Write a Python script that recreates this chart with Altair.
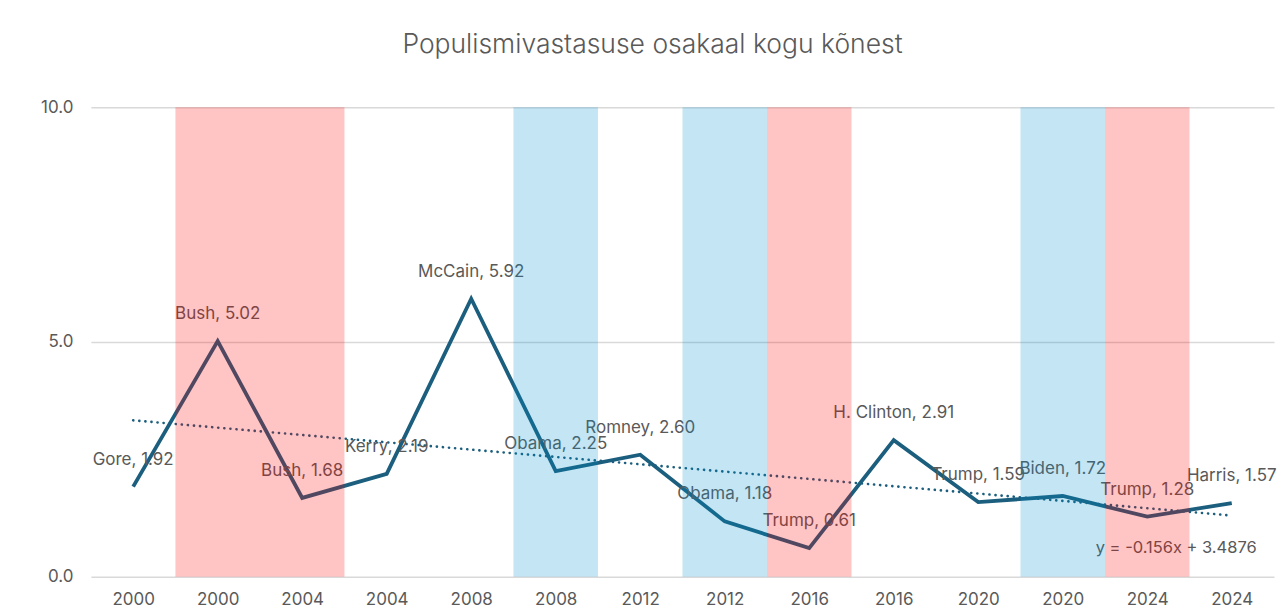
import json
import altair as alt
import pandas as pd

# ---- data ----
years = ["2000", "2000", "2004", "2004", "2008", "2008", "2012", "2012",
         "2016", "2016", "2020", "2020", "2024", "2024"]
candidates = ["Gore", "Bush", "Bush", "Kerry", "McCain", "Obama", "Romney",
              "Obama", "Trump", "H. Clinton", "Trump", "Biden", "Trump", "Harris"]
values = [1.92, 5.02, 1.68, 2.19, 5.92, 2.25, 2.60, 1.18, 0.61, 2.91,
          1.59, 1.72, 1.28, 1.57]
winner = ["", "R", "R", "", "", "D", "", "D", "R", "", "", "D", "R", ""]
band_top = 10.0
trend_slope = -0.156
trend_intercept = 3.4876

# ---- styling ----
FONT = "Inter"
TEXT = "#595959"
LINE = "#1B5E7E"
GRID = "#D9D9D9"

idx = list(range(1, len(values) + 1))
df = pd.DataFrame({"idx": idx, "year": years, "candidate": candidates,
                   "value": values, "winner": winner})
df["label"] = [f"{c}, {v:.2f}" for c, v in zip(candidates, values)]
df["trend"] = trend_intercept + trend_slope * df["idx"]

bands = df[df["winner"] != ""].copy()
bands["x0"] = bands["idx"] - 0.5
bands["x1"] = bands["idx"] + 0.5
bands["top"] = band_top
bands["bottom"] = 0.0

eq_text = f"y = {trend_slope}x + {trend_intercept}"
eq_df = pd.DataFrame({"t": [eq_text], "x": [idx[-1]], "y": [0.62]})

label_expr = json.dumps(years) + "[datum.value - 1]"

xscale = alt.Scale(domain=[0.5, len(values) + 0.5], nice=False, zero=False)
yscale = alt.Scale(domain=[0, 10], nice=False)

x_axis = alt.Axis(values=idx, labelExpr=label_expr, grid=False, ticks=False,
                  domain=False, title=None, labelFontSize=17, labelColor=TEXT,
                  labelFont=FONT, labelPadding=15)
y_axis = alt.Axis(values=[0, 5, 10], format=".1f", grid=True, gridColor=GRID,
                  gridWidth=1.5, ticks=False, domain=False, title=None,
                  labelFontSize=17, labelColor=TEXT, labelFont=FONT,
                  labelPadding=18, minExtent=60, maxExtent=60)

base = alt.Chart(df)

line = base.mark_line(color=LINE, strokeWidth=3.8, strokeJoin="miter").encode(
    x=alt.X("idx:Q", scale=xscale, axis=x_axis),
    y=alt.Y("value:Q", scale=yscale, axis=y_axis),
)

trend = base.mark_line(color=LINE, strokeWidth=2.6, strokeDash=[0.1, 6],
                       strokeCap="round").encode(
    x=alt.X("idx:Q", scale=xscale),
    y=alt.Y("trend:Q", scale=yscale),
)

labels = base.mark_text(dy=-27, fontSize=17, color=TEXT, font=FONT).encode(
    x=alt.X("idx:Q", scale=xscale),
    y=alt.Y("value:Q", scale=yscale),
    text="label:N",
)

eq = alt.Chart(eq_df).mark_text(align="right", dx=25, fontSize=16.5, color=TEXT,
                                font=FONT).encode(
    x=alt.X("x:Q", scale=xscale),
    y=alt.Y("y:Q", scale=yscale),
    text="t:N",
)

band_layer = alt.Chart(bands).mark_rect(opacity=0.23).encode(
    x=alt.X("x0:Q", scale=xscale),
    x2="x1:Q",
    y=alt.Y("bottom:Q", scale=yscale),
    y2="top:Q",
    color=alt.Color("winner:N", scale=alt.Scale(domain=["R", "D"],
                                                range=["#FF0000", "#008ECB"]),
                    legend=None),
)

chart = alt.layer(line, trend, labels, eq, band_layer).properties(
    width=1184,
    height=470,
    padding={"left": 23, "top": 23, "right": 2, "bottom": 0},
    title=alt.TitleParams("Populismivastasuse osakaal kogu kõnest",
                          fontSize=26.5, font=FONT, color=TEXT,
                          fontWeight=300, offset=40, anchor="middle", dx=-30),
).configure(background="white").configure_view(strokeWidth=0, stroke="transparent")

chart.save("out.html", embed_options={"renderer": "svg", "actions": False})
